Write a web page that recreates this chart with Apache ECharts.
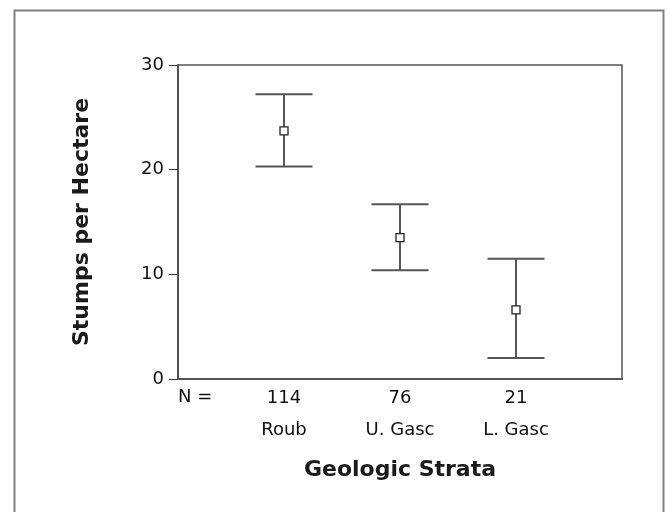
<!DOCTYPE html>
<html>
<head>
<meta charset="utf-8">
<script src="https://cdn.jsdelivr.net/npm/echarts@6/dist/echarts.min.js"></script>
<style>
html,body{margin:0;padding:0;background:#fff;}
#chart{width:668px;height:512px;}
</style>
</head>
<body>
<div id="chart"></div>
<script>
var categories = ['Roub', 'U. Gasc', 'L. Gasc'];
var nCounts = [114, 76, 21];
var means = [23.7, 13.5, 6.6];
var upper = [27.2, 16.7, 11.5];
var lower = [20.3, 10.4, 2.0];
var xPositions = [1, 2, 3];
var nLabel = 'N =';

var FONT = '"DejaVu Sans", sans-serif';
var chart = echarts.init(document.getElementById('chart'), null, {renderer: 'canvas'});

var errData = xPositions.map(function (x, i) { return [x, lower[i], upper[i]]; });
var meanData = xPositions.map(function (x, i) { return [x, means[i]]; });

var option = {
  animation: false,
  backgroundColor: '#fff',
  grid: {
    left: 178, top: 65, right: 46, bottom: 133,
    show: true, borderColor: '#555', borderWidth: 1.5, backgroundColor: 'transparent'
  },
  xAxis: {
    type: 'value',
    min: 0.0862, max: 3.9138,
    name: 'Geologic Strata',
    nameLocation: 'middle',
    nameGap: 80,
    nameTextStyle: {fontFamily: FONT, fontSize: 22, fontWeight: 'bold', color: '#1a1a1a'},
    axisLine: {show: true, lineStyle: {color: '#555', width: 2}},
    axisTick: {show: false},
    splitLine: {show: false},
    axisLabel: {
      customValues: xPositions,
      margin: 3,
      lineHeight: 32,
      fontFamily: FONT, fontSize: 18, color: '#111',
      formatter: function (v) {
        var i = Math.round(v) - 1;
        return nCounts[i] + '\n' + categories[i];
      }
    }
  },
  yAxis: {
    type: 'value',
    min: 0, max: 30, interval: 10,
    name: 'Stumps per Hectare',
    nameLocation: 'middle',
    nameGap: 85,
    nameRotate: 90,
    nameTextStyle: {fontFamily: FONT, fontSize: 22, fontWeight: 'bold', color: '#1a1a1a'},
    axisLine: {show: true, lineStyle: {color: '#444', width: 1.5}},
    axisTick: {show: true, inside: false, length: 9, lineStyle: {color: '#444', width: 1.2}},
    splitLine: {show: false},
    axisLabel: {margin: 14, fontFamily: FONT, fontSize: 18, color: '#111'}
  },
  graphic: [
    {type: 'rect', left: 12, top: 8, shape: {width: 649, height: 520},
     style: {fill: 'none', stroke: '#808080', lineWidth: 2}, z: 10, silent: true},
    {type: 'text', left: 178, top: 388,
     style: {text: nLabel, font: '18px ' + FONT, fill: '#111'}}
  ],
  series: [
    {
      type: 'custom',
      data: errData,
      renderItem: function (params, api) {
        var x = api.value(0);
        var lo = api.coord([x, api.value(1)]);
        var hi = api.coord([x, api.value(2)]);
        var half = 28.5;
        return {
          type: 'group',
          children: [
            {type: 'line', shape: {x1: lo[0], y1: lo[1], x2: hi[0], y2: hi[1]},
             style: {stroke: '#111', lineWidth: 1.4}},
            {type: 'line', shape: {x1: hi[0] - half, y1: hi[1], x2: hi[0] + half, y2: hi[1]},
             style: {stroke: '#555', lineWidth: 2}},
            {type: 'line', shape: {x1: lo[0] - half, y1: lo[1], x2: lo[0] + half, y2: lo[1]},
             style: {stroke: '#555', lineWidth: 2}}
          ]
        };
      },
      z: 2
    },
    {
      type: 'scatter',
      data: meanData,
      symbol: 'rect',
      symbolSize: 8,
      itemStyle: {color: '#fff', borderColor: '#222', borderWidth: 1.3, opacity: 1},
      z: 3
    }
  ]
};
chart.setOption(option);
</script>
</body>
</html>
